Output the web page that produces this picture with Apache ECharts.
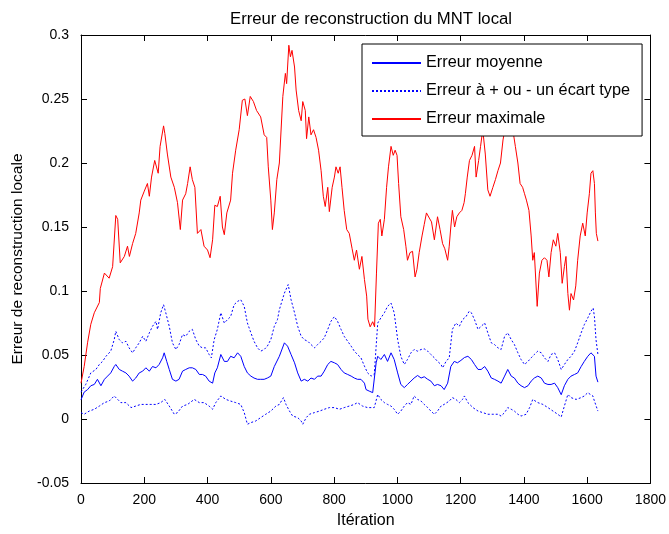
<!DOCTYPE html>
<html>
<head>
<meta charset="utf-8">
<script src="https://cdn.jsdelivr.net/npm/echarts@6/dist/echarts.min.js"></script>
<style>
html,body{margin:0;padding:0;background:#fff;}
#chart{width:669px;height:534px;}
</style>
</head>
<body>
<div id="chart"></div>
<script>
// ---- Data ----
const maxIter = [0,10,21,31,42,58,61,74,89,100,110,116,124,137,147,153,163,173,184,189,200,210,216,223,233,244,250,261,265,273,284,295,305,314,321,331,337,345,352,360,368,379,389,400,408,416,423,431,440,447,453,461,473,479,489,500,510,518,526,535,545,555,568,579,587,592,600,605,611,619,627,638,646,650,657,662,667,675,680,688,696,701,709,713,720,727,735,743,751,759,766,772,780,785,794,801,806,813,819,825,832,840,848,857,864,871,880,888,896,903,907,914,922,928,934,940,946,951,959,966,972,980,987,993,999,1004,1011,1020,1027,1032,1040,1048,1056,1062,1069,1078,1085,1092,1101,1108,1117,1127,1135,1143,1150,1159,1164,1169,1174,1181,1188,1196,1204,1211,1215,1221,1228,1236,1244,1249,1257,1263,1270,1278,1286,1293,1302,1310,1318,1326,1334,1341,1349,1358,1365,1373,1381,1388,1396,1402,1408,1416,1423,1428,1433,1442,1449,1457,1465,1473,1479,1486,1493,1501,1507,1515,1521,1528,1533,1539,1544,1549,1557,1564,1570,1578,1586,1594,1600,1607,1612,1618,1623,1626,1629,1634];
const maxErr = [0.028,0.041,0.060,0.074,0.083,0.091,0.102,0.114,0.110,0.119,0.159,0.156,0.122,0.127,0.135,0.127,0.137,0.145,0.161,0.171,0.178,0.184,0.174,0.189,0.202,0.192,0.213,0.229,0.223,0.207,0.189,0.181,0.169,0.148,0.171,0.176,0.184,0.197,0.187,0.181,0.145,0.148,0.135,0.132,0.126,0.140,0.167,0.166,0.174,0.150,0.144,0.161,0.171,0.192,0.210,0.226,0.249,0.250,0.237,0.252,0.248,0.241,0.236,0.222,0.220,0.197,0.171,0.148,0.161,0.187,0.200,0.252,0.270,0.262,0.292,0.283,0.288,0.275,0.257,0.241,0.233,0.248,0.241,0.219,0.236,0.222,0.226,0.220,0.210,0.194,0.174,0.166,0.181,0.162,0.181,0.189,0.197,0.192,0.197,0.181,0.163,0.148,0.145,0.133,0.124,0.132,0.117,0.127,0.109,0.096,0.078,0.072,0.076,0.072,0.114,0.153,0.156,0.143,0.156,0.181,0.197,0.213,0.206,0.210,0.206,0.184,0.158,0.148,0.135,0.124,0.130,0.131,0.111,0.117,0.130,0.143,0.152,0.161,0.157,0.154,0.140,0.158,0.148,0.137,0.133,0.124,0.135,0.150,0.163,0.150,0.158,0.161,0.163,0.169,0.176,0.189,0.202,0.206,0.213,0.189,0.202,0.213,0.226,0.207,0.179,0.174,0.181,0.187,0.194,0.200,0.218,0.228,0.231,0.222,0.226,0.213,0.200,0.184,0.181,0.176,0.171,0.163,0.143,0.124,0.130,0.088,0.114,0.124,0.126,0.124,0.111,0.130,0.140,0.135,0.145,0.130,0.106,0.119,0.127,0.098,0.085,0.098,0.093,0.104,0.124,0.143,0.153,0.143,0.161,0.176,0.192,0.194,0.184,0.161,0.145,0.139];

const meanIter = [0,10,21,31,42,52,63,74,84,94,105,110,121,131,142,152,163,173,184,195,205,216,226,237,247,258,263,271,279,289,300,310,321,331,342,352,363,374,384,394,405,416,423,431,442,453,463,473,484,495,505,516,526,537,547,558,568,579,589,600,611,627,643,653,664,675,685,696,706,717,727,738,748,759,769,780,790,801,811,822,832,843,854,864,874,885,896,901,911,922,927,933,938,948,959,969,980,990,1001,1011,1022,1032,1043,1053,1064,1075,1085,1096,1106,1117,1127,1138,1148,1159,1169,1180,1190,1201,1212,1223,1234,1244,1255,1265,1276,1286,1297,1307,1318,1328,1339,1349,1360,1370,1381,1391,1402,1413,1423,1433,1444,1455,1465,1476,1486,1497,1507,1518,1528,1539,1549,1560,1570,1581,1591,1602,1612,1618,1623,1628,1634];
const meanErr = [0.015,0.021,0.023,0.026,0.027,0.031,0.026,0.031,0.0335,0.036,0.041,0.0426,0.0387,0.0374,0.036,0.0335,0.0296,0.032,0.036,0.0374,0.040,0.0374,0.041,0.040,0.0426,0.0478,0.0517,0.045,0.0387,0.031,0.0296,0.031,0.0374,0.0387,0.040,0.040,0.0387,0.0348,0.0348,0.0335,0.0296,0.028,0.036,0.040,0.0504,0.045,0.045,0.049,0.0478,0.0517,0.049,0.041,0.036,0.0335,0.032,0.031,0.031,0.031,0.032,0.0335,0.041,0.049,0.0595,0.0569,0.0504,0.0439,0.036,0.0296,0.031,0.0296,0.032,0.031,0.0335,0.0335,0.0374,0.0426,0.045,0.0439,0.0426,0.0387,0.036,0.0348,0.0335,0.032,0.031,0.031,0.028,0.023,0.0218,0.0206,0.0218,0.0439,0.049,0.0465,0.0504,0.045,0.0517,0.0465,0.036,0.027,0.0245,0.027,0.0296,0.032,0.034,0.032,0.033,0.031,0.0296,0.026,0.027,0.026,0.023,0.028,0.041,0.045,0.0439,0.0458,0.048,0.049,0.0465,0.0426,0.0387,0.0387,0.041,0.0374,0.032,0.031,0.0296,0.028,0.0335,0.0387,0.0335,0.032,0.028,0.026,0.0245,0.026,0.0296,0.032,0.0335,0.032,0.028,0.027,0.027,0.028,0.0245,0.019,0.026,0.031,0.0335,0.0348,0.036,0.041,0.045,0.049,0.0517,0.053,0.049,0.0335,0.0288];

const upIter = [0,15,31,47,58,68,79,94,105,110,121,131,142,152,163,173,184,195,205,216,226,237,242,252,261,268,279,289,300,310,321,331,342,352,363,374,384,394,405,412,421,431,442,453,463,473,484,495,505,516,526,537,547,558,568,579,589,600,611,621,627,643,655,664,675,685,696,706,717,727,738,748,759,769,780,790,801,811,822,832,843,854,864,874,885,896,906,917,927,933,938,948,959,969,980,990,1001,1011,1022,1032,1043,1053,1064,1075,1085,1096,1106,1117,1127,1138,1143,1154,1164,1174,1185,1196,1206,1217,1227,1234,1244,1255,1265,1276,1286,1297,1307,1318,1328,1339,1349,1360,1370,1381,1391,1402,1413,1423,1433,1444,1455,1465,1476,1486,1497,1507,1518,1528,1539,1549,1560,1570,1581,1591,1602,1612,1619,1623,1628,1634];
const upErr = [0.021,0.027,0.036,0.0387,0.0426,0.045,0.049,0.053,0.062,0.0685,0.062,0.0595,0.0607,0.0556,0.0517,0.0556,0.0595,0.0646,0.0607,0.0673,0.0724,0.0763,0.070,0.083,0.0893,0.083,0.0724,0.0595,0.0543,0.0582,0.066,0.0646,0.0685,0.070,0.062,0.0569,0.0556,0.0556,0.0504,0.0478,0.062,0.070,0.083,0.075,0.0776,0.080,0.0893,0.0919,0.0932,0.088,0.075,0.0673,0.0607,0.0556,0.053,0.0543,0.0569,0.062,0.0724,0.0776,0.0854,0.0984,0.105,0.0932,0.083,0.0724,0.0646,0.062,0.0607,0.0582,0.0556,0.0582,0.0607,0.0634,0.070,0.0763,0.080,0.0763,0.070,0.0646,0.0607,0.0569,0.053,0.0504,0.0478,0.0413,0.036,0.0335,0.0348,0.0569,0.075,0.079,0.083,0.088,0.0906,0.083,0.062,0.049,0.0426,0.0465,0.0517,0.0543,0.053,0.0543,0.0548,0.053,0.0504,0.0478,0.045,0.0426,0.040,0.045,0.0478,0.070,0.075,0.0724,0.0776,0.080,0.0841,0.083,0.0776,0.070,0.0724,0.075,0.0673,0.0595,0.0582,0.0556,0.0543,0.0646,0.0673,0.062,0.0582,0.0517,0.0465,0.0426,0.045,0.0478,0.0504,0.053,0.0517,0.0478,0.045,0.0504,0.0517,0.0465,0.0387,0.0426,0.0465,0.049,0.053,0.0595,0.0673,0.0737,0.079,0.0841,0.0867,0.080,0.062,0.0504];

const lowIter = [0,10,26,42,58,74,89,105,116,126,142,158,173,189,205,221,237,252,265,279,295,305,321,337,358,374,389,405,416,426,442,458,473,489,505,516,526,537,552,568,584,600,616,627,640,648,659,669,685,696,701,712,722,738,754,769,785,801,817,832,848,864,874,890,906,917,927,938,948,959,969,980,990,1001,1011,1022,1032,1043,1053,1064,1075,1085,1096,1106,1117,1127,1138,1148,1164,1174,1185,1196,1206,1212,1223,1239,1255,1270,1286,1302,1318,1328,1339,1349,1360,1370,1381,1391,1407,1418,1428,1444,1460,1476,1492,1507,1518,1528,1539,1549,1565,1581,1591,1602,1610,1618,1623,1634];
const lowErr = [0.005,0.0037,0.0062,0.0076,0.0101,0.0128,0.014,0.018,0.0153,0.0128,0.0128,0.0089,0.0101,0.0114,0.0114,0.0114,0.0114,0.0128,0.0153,0.0101,0.0037,0.005,0.0101,0.0114,0.0153,0.0128,0.0128,0.0101,0.0076,0.0128,0.018,0.0153,0.014,0.0128,0.0114,0.005,-0.0041,-0.0028,-0.0016,0.0011,0.0037,0.0062,0.0101,0.0114,0.0167,0.0114,0.0062,0.0023,0.0011,-0.0016,-0.0041,0.0011,0.0037,0.005,0.0062,0.0076,0.0089,0.0089,0.0076,0.0089,0.0101,0.0114,0.0128,0.0101,0.0089,0.0089,0.0089,0.0192,0.0153,0.0128,0.0114,0.0101,0.0076,0.0037,0.0062,0.0101,0.0128,0.0114,0.018,0.0153,0.014,0.0114,0.0089,0.0062,0.0037,0.0062,0.0101,0.0114,0.014,0.0167,0.0153,0.0128,0.0153,0.018,0.0128,0.0089,0.0062,0.005,0.0037,0.0037,0.0037,0.0023,0.005,0.0089,0.0076,0.0062,0.0037,0.0023,0.0037,0.0089,0.0153,0.0128,0.0114,0.0089,0.0062,0.0037,0.0016,0.0101,0.0192,0.0167,0.0153,0.0167,0.018,0.0206,0.0192,0.018,0.014,0.0062];

const xTicks = {min: 0, max: 1800, interval: 200};
const yTicks = {min: -0.05, max: 0.3, interval: 0.05};

const titleText = 'Erreur de reconstruction du MNT local';
const xName = 'Itération';
const yName = 'Erreur de reconstruction locale';
const nameMean = 'Erreur moyenne';
const nameStd = 'Erreur à + ou - un écart type';
const nameMax = 'Erreur maximale';

// ---- Chart ----
const pairs = (xs, ys) => xs.map((x, i) => [x, ys[i]]);
const FONT = 'Liberation Sans';
const chart = echarts.init(document.getElementById('chart'), null, {renderer: 'canvas'});

const baseAxis = {
  axisLine: {show: true, onZero: false, lineStyle: {color: '#000', width: 1}},
  axisTick: {show: true, inside: true, length: 6, lineStyle: {color: '#000'}},
  splitLine: {show: false},
  axisLabel: {color: '#000', fontFamily: FONT, fontSize: 14}
};

const fmtY = v => String(Math.round(v * 100) / 100);
const fmtX = v => String(Math.round(v));

chart.setOption({
  animation: false,
  backgroundColor: '#fff',
  title: {
    text: titleText, left: 366, top: 6, textAlign: 'center',
    textStyle: {fontFamily: FONT, fontSize: 16.7, fontWeight: 'normal', color: '#000'}
  },
  grid: {left: 81, right: 18, top: 35, bottom: 50},
  legend: {
    orient: 'vertical', left: 362, top: 44,
    data: [nameMean, nameStd, nameMax],
    itemWidth: 49, itemHeight: 14, itemGap: 12,
    padding: [11, 12, 9, 9],
    backgroundColor: '#fff', borderColor: '#000', borderWidth: 1,
    itemStyle: {color: 'rgba(0,0,0,0)', borderWidth: 0, borderColor: 'rgba(0,0,0,0)'},
    textStyle: {fontFamily: FONT, fontSize: 16.3, color: '#000'},
    selectedMode: false
  },
  xAxis: [
    Object.assign({}, baseAxis, {
      type: 'value', position: 'bottom', min: xTicks.min, max: xTicks.max, interval: xTicks.interval,
      name: xName, nameLocation: 'middle', nameGap: 30,
      nameTextStyle: {fontFamily: FONT, fontSize: 16, color: '#000'},
      axisLabel: {color: '#000', fontFamily: FONT, fontSize: 14, margin: 10, formatter: fmtX}
    }),
    Object.assign({}, baseAxis, {
      type: 'value', position: 'top', min: xTicks.min, max: xTicks.max, interval: xTicks.interval,
      axisLabel: {show: false}
    })
  ],
  yAxis: [
    Object.assign({}, baseAxis, {
      type: 'value', position: 'left', min: yTicks.min, max: yTicks.max, interval: yTicks.interval,
      name: yName, nameLocation: 'middle', nameGap: 52, nameRotate: 90,
      nameTextStyle: {fontFamily: FONT, fontSize: 15.5, color: '#000'},
      axisLabel: {color: '#000', fontFamily: FONT, fontSize: 14, margin: 12, formatter: fmtY}
    }),
    Object.assign({}, baseAxis, {
      type: 'value', position: 'right', min: yTicks.min, max: yTicks.max, interval: yTicks.interval,
      axisLabel: {show: false}
    })
  ],
  series: [
    {name: nameMean, type: 'line', data: pairs(meanIter, meanErr), symbol: 'none',
     lineStyle: {color: '#0000ff', width: 1}, itemStyle: {color: '#0000ff'}},
    {name: nameStd, type: 'line', data: pairs(upIter, upErr), symbol: 'none',
     lineStyle: {color: '#0000ff', width: 1, type: [2, 2]}, itemStyle: {color: '#0000ff'}},
    {name: nameStd, type: 'line', data: pairs(lowIter, lowErr), symbol: 'none',
     lineStyle: {color: '#0000ff', width: 1, type: [2, 2]}, itemStyle: {color: '#0000ff'}},
    {name: nameMax, type: 'line', data: pairs(maxIter, maxErr), symbol: 'none',
     lineStyle: {color: '#ff0000', width: 1}, itemStyle: {color: '#ff0000'}}
  ]
});
</script>
</body>
</html>
